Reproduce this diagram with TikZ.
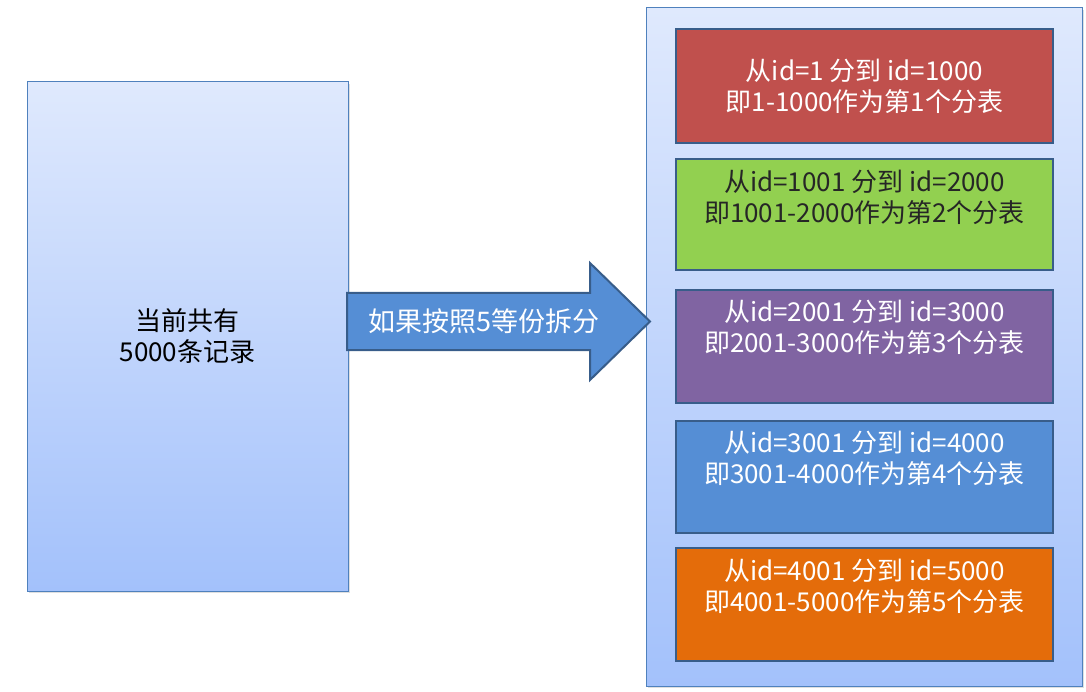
\documentclass[tikz,border=0pt]{standalone}
\usepackage{fontspec}
\setmainfont{Noto Sans CJK SC}
\usetikzlibrary{positioning,shadows}
\definecolor{paneltop}{HTML}{DFE9FD}
\definecolor{panelbot}{HTML}{A3C1FB}
\definecolor{panelline}{HTML}{4F81BD}
\definecolor{partline}{HTML}{385D8A}
\definecolor{partred}{HTML}{C0504D}
\definecolor{partgreen}{HTML}{92D050}
\definecolor{partpurple}{HTML}{8064A2}
\definecolor{partblue}{HTML}{558ED5}
\definecolor{partorange}{HTML}{E46C0A}
\tikzset{
  panel/.style={draw=panelline, line width=1pt, top color=paneltop, bottom color=panelbot,
    inner sep=0pt, drop shadow={shadow xshift=1.5pt, shadow yshift=-2pt, opacity=0.25}},
  part/.style={draw=partline, line width=2.5pt, minimum width=377pt, inner sep=0pt},
  label/.style={font=\fontsize{26}{31}\selectfont, align=center, inner sep=0pt}
}
\begin{document}
\begin{tikzpicture}[x=1pt,y=-1pt]
    \useasboundingbox (0,0) rectangle (1086,692);
    \node[panel, minimum width=321pt, minimum height=509pt] (records) at (187.5,336.5) {};
    \node[label] (recordstext) at (records.center) {当前共有\\5000条记录};
    \node[panel, minimum width=436pt, minimum height=678pt] (tables) at (864,347) {};
    \draw[fill=partblue, draw=partline, line width=2pt]
        (347,293) -- (590,293) -- (590,263) -- (650,321.5) -- (590,380) -- (590,350) -- (347,350) -- cycle;
    \node[label, text=white, font=\fontsize{27}{31}\selectfont] (split) at (484,321) {如果按照5等份拆分};
    \node[part, fill=partred, minimum height=114pt, anchor=north] (part1) at (864.5,27.75) {};
    \node[part, fill=partgreen, minimum height=111pt, below=13.5pt of part1] (part2) {};
    \node[part, fill=partpurple, minimum height=113pt, below=17.5pt of part2] (part3) {};
    \node[part, fill=partblue, minimum height=112pt, below=15.5pt of part3] (part4) {};
    \node[part, fill=partorange, minimum height=113pt, below=12.5pt of part4] (part5) {};
    \node[label, text=white] (text1) at (part1.center) {从id=1 分到 id=1000\\即1-1000作为第1个分表};
    \node[label, text=black!85] (text2) [below=39.5pt of part2.north, anchor=center] {从id=1001 分到 id=2000\\即1001-2000作为第2个分表};
    \node[label, text=white] (text3) [below=39pt of part3.north, anchor=center] {从id=2001 分到 id=3000\\即2001-3000作为第3个分表};
    \node[label, text=white] (text4) [below=38.5pt of part4.north, anchor=center] {从id=3001 分到 id=4000\\即3001-4000作为第4个分表};
    \node[label, text=white] (text5) [below=40pt of part5.north, anchor=center] {从id=4001 分到 id=5000\\即4001-5000作为第5个分表};
\end{tikzpicture}
\end{document}
